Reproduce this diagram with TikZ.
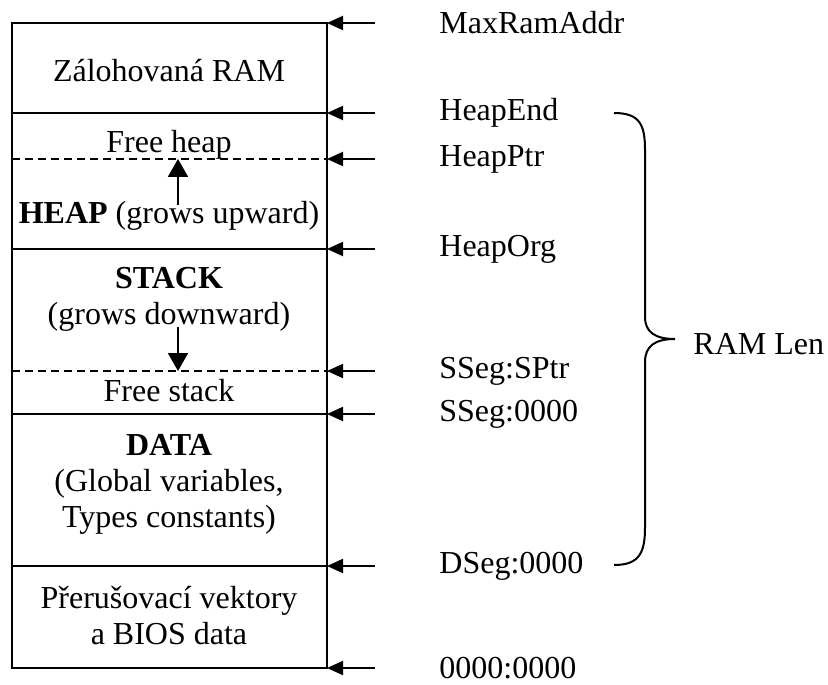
\documentclass[tikz,border=0pt]{standalone}
\usepackage{fontspec}
\setmainfont{Liberation Serif}
\usetikzlibrary{arrows.meta, positioning, calc}
\tikzset{
	memline/.style ={line width=1pt},
	freeline/.style={line width=1pt, dash pattern=on 4pt off 2.5pt},
	area/.style    ={align=center, inner sep=0pt},
	addr/.style    ={anchor=west, inner sep=0pt},
	ptr/.style     ={-{Triangle[length=8pt, width=7pt]}, line width=1pt},
	% arrows inside the map: growth direction of heap and stack
	growarrow/.style={-{Triangle[length=9pt, width=10pt]}, line width=1pt},
}

\begin{document}
\begin{tikzpicture}[x=0.5pt, y=-0.5pt, font=\fontsize{16}{18}\selectfont]
	\useasboundingbox (0,0) rectangle (828,684);
	% address levels, right of the map
	\foreach \lv/\y/\txt in {max/23/MaxRamAddr, hend/113/HeapEnd, hptr/159/HeapPtr, horg/249/HeapOrg, sptr/371/SSeg:SPtr, sseg/414/SSeg:0000, dseg/566/DSeg:0000, zero/668/0000:0000}{
		\coordinate (l\lv) at (12,\y);
		\coordinate (r\lv) at (327,\y);
		\coordinate (t\lv) at (375,\y);
		\node[addr] (a\lv) at (439,\y) {\txt};
		\draw[ptr] (t\lv) -- (r\lv);
	}
	\draw[memline] (lmax) rectangle (rzero);
	\draw[memline] (lhend) -- (rhend) (lhorg) -- (rhorg) (lsseg) -- (rsseg) (ldseg) -- (rdseg);
	\draw[freeline] (lhptr) -- (rhptr) (lsptr) -- (rsptr);
	\node[area] (zal) at (169,71) {Zálohovaná RAM};
	\node[area] (fheap) at (169,145) {Free heap};
	\node[area] (heap) at (169,216) {\textbf{HEAP} (grows upward)};
	\node[area] (stack) at (169,299) {\textbf{STACK}\\(grows downward)};
	\node[area] (fstack) at (169,391) {Free stack};
	\node[area] (data) at (169,484) {\textbf{DATA}\\(Global variables,\\Types constants)};
	\node[area] (bios) at (169,616) {Přerušovací vektory\\a BIOS data};
	\coordinate (hgrow) at (178,205);
	\coordinate (sgrow) at (178,327);
	\draw[growarrow] (hgrow) -- (hgrow |- lhptr);
	\draw[growarrow] (sgrow) -- (sgrow |- lsptr);
	\draw[memline] (614,113) .. controls (640,113) and (645,125) .. (645,150) -- (645,317)
		.. controls (645,332) and (655,339) .. (675,339)
		.. controls (655,339) and (645,346) .. (645,362) -- (645,527)
		.. controls (645,552) and (640,565) .. (614,565);
	\node[addr] (ramlen) at (693,344) {RAM Len};
\end{tikzpicture}
\end{document}
